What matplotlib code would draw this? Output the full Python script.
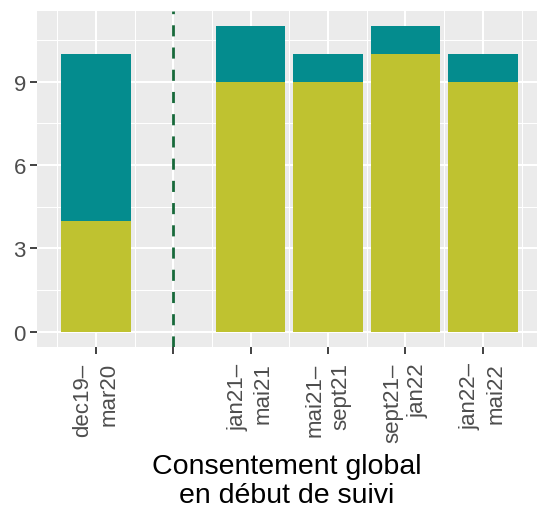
import numpy as np
import matplotlib
matplotlib.use("Agg")
import matplotlib.pyplot as plt

# -----------------------------
# Data
# -----------------------------
periods = ["dec19–\nmar20", "", "jan21–\nmai21", "mai21–\nsept21", "sept21–\njan22", "jan22–\nmai22"]
consent_yes = [4, np.nan, 9, 9, 10, 9]
consent_no = [6, np.nan, 2, 1, 1, 1]
separator = ""          # the empty slot where the dashed line goes
y_ticks = [0, 3, 6, 9]

olive = "#BFC230"
teal = "#048C8E"
line_green = "#17693A"

plt.rcParams["font.family"] = ["Liberation Sans", "DejaVu Sans"]

# -----------------------------
# Figure
# -----------------------------
fig = plt.figure(figsize=(5.37, 5.10), dpi=100)
ax = fig.add_axes([0.069, 0.3176, 0.931, 0.659])
ax.set_facecolor("#EBEBEB")
for s in ax.spines.values():
    s.set_visible(False)

x = np.arange(1, len(periods) + 1)
yes = np.array(consent_yes, dtype=float)
no = np.array(consent_no, dtype=float)
ok = ~np.isnan(yes)

ax.bar(x[ok], yes[ok], width=0.9, color=olive, zorder=3)
ax.bar(x[ok], no[ok], bottom=yes[ok], width=0.9, color=teal, zorder=3)

sep_x = x[periods.index(separator)]
ax.axvline(sep_x, color=line_green, lw=2.0, linestyle=(0, (4, 4)), zorder=4)

# -----------------------------
# Axes styling (ggplot-like)
# -----------------------------
top = np.nansum([yes, no], axis=0).max()
ax.set_ylim(-0.05 * top, top * 1.05)
ax.set_xlim(0.24, 6.7)

ax.set_yticks(y_ticks)
ax.set_yticks([1.5, 4.5, 7.5, 10.5], minor=True)
ax.set_xticks(x)
ax.set_xticks(np.arange(0.5, 7.0, 1.0), minor=True)
ax.set_xticklabels(periods, rotation=90, ha="center", va="top",
                   multialignment="right", fontsize=16, color="#4D4D4D",
                   linespacing=1.3)
ax.set_yticklabels([str(t) for t in y_ticks], fontsize=16, color="#4D4D4D")

ax.grid(which="major", color="white", lw=1.5, zorder=0)
ax.grid(which="minor", color="white", lw=0.75, zorder=0)
ax.set_axisbelow(True)

ax.tick_params(which="major", length=5, width=1.3, color="#333333", pad=3)
ax.tick_params(axis="x", which="major", pad=6)
ax.tick_params(which="minor", length=0)

ax.set_xlabel("Consentement global\nen début de suivi", fontsize=20.5,
              color="black", labelpad=8, linespacing=1.15)

fig.savefig("out.png", dpi=100)
